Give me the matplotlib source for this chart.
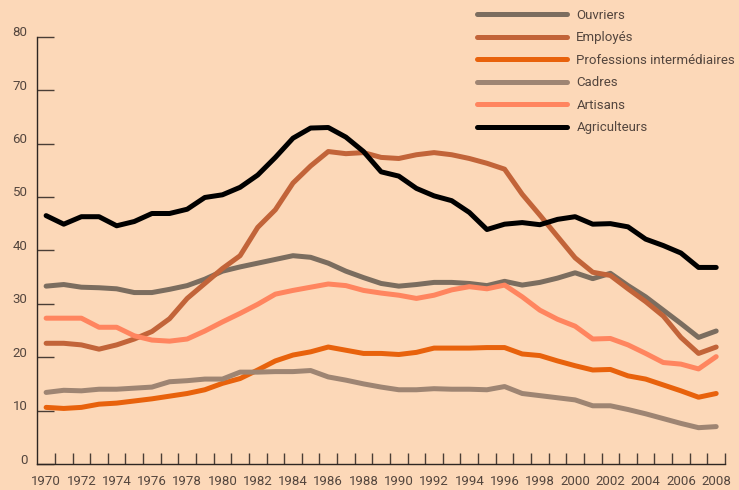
import matplotlib
matplotlib.use("Agg")
import matplotlib.pyplot as plt
import matplotlib.transforms as mtransforms

# Données
annees = list(range(1970, 2009))

ouvriers = [33.3, 33.6, 33.1, 33.0, 32.8, 32.1, 32.1, 32.7, 33.4, 34.6,
            36.1, 36.9, 37.6, 38.3, 39.0, 38.7, 37.6, 36.1, 34.9, 33.8,
            33.3, 33.6, 34.0, 34.0, 33.8, 33.4, 34.2, 33.5, 34.0, 34.8,
            35.8, 34.7, 35.7, 33.4, 31.3, 28.8, 26.3, 23.7, 24.9]

employes = [22.6, 22.6, 22.3, 21.5, 22.3, 23.4, 24.8, 27.2, 31.0, 33.8,
            36.6, 39.0, 44.3, 47.6, 52.6, 55.8, 58.5, 58.1, 58.3, 57.4,
            57.2, 57.9, 58.3, 57.9, 57.2, 56.3, 55.2, 50.5, 46.6, 42.6,
            38.6, 35.9, 35.3, 32.8, 30.4, 27.7, 23.7, 20.7, 21.9]

prof_inter = [10.6, 10.4, 10.6, 11.2, 11.4, 11.8, 12.2, 12.7, 13.2, 13.9,
              15.1, 16.0, 17.6, 19.3, 20.4, 21.0, 21.9, 21.3, 20.7, 20.7,
              20.5, 20.9, 21.7, 21.7, 21.7, 21.8, 21.8, 20.6, 20.3, 19.3,
              18.4, 17.6, 17.7, 16.5, 15.9, 14.8, 13.7, 12.5, 13.2]

cadres = [13.4, 13.8, 13.7, 14.0, 14.0, 14.2, 14.4, 15.4, 15.6, 15.9,
          15.9, 17.2, 17.2, 17.3, 17.3, 17.5, 16.3, 15.7, 15.0, 14.4,
          13.9, 13.9, 14.1, 14.0, 14.0, 13.9, 14.5, 13.2, 12.8, 12.4,
          12.0, 10.9, 10.9, 10.2, 9.4, 8.5, 7.6, 6.8, 7.0]

artisans = [27.3, 27.3, 27.3, 25.6, 25.6, 24.0, 23.2, 23.0, 23.4, 24.9,
            26.6, 28.2, 29.9, 31.8, 32.5, 33.1, 33.7, 33.4, 32.5, 32.0,
            31.6, 31.0, 31.6, 32.6, 33.2, 32.8, 33.5, 31.3, 28.8, 27.1,
            25.8, 23.4, 23.5, 22.3, 20.7, 19.0, 18.7, 17.8, 20.1]

agriculteurs = [46.5, 44.9, 46.3, 46.3, 44.6, 45.4, 46.9, 46.9, 47.7, 49.9,
                50.4, 51.8, 54.1, 57.4, 61.0, 62.9, 63.0, 61.2, 58.5, 54.7,
                53.9, 51.6, 50.2, 49.3, 47.1, 43.9, 44.9, 45.2, 44.8, 45.8,
                46.3, 44.9, 45.0, 44.4, 42.1, 40.9, 39.5, 36.8, 36.8]

series = [
    ("Ouvriers", ouvriers, "#7b6d5f"),
    ("Employés", employes, "#c26439"),
    ("Professions intermédiaires", prof_inter, "#e8620c"),
    ("Cadres", cadres, "#9e8573"),
    ("Artisans", artisans, "#ff855f"),
    ("Agriculteurs", agriculteurs, "#000000"),
]

fond = "#fcd8b8"
texte = "#54463e"

plt.rcParams["font.family"] = ["Roboto", "DejaVu Sans"]

fig = plt.figure(figsize=(7.39, 4.90), dpi=100, facecolor=fond)
ax = fig.add_axes([37.3 / 739, 1 - 464 / 490, (725 - 37.3) / 739, (464 - 36.7) / 490])
ax.set_facecolor(fond)

for nom, valeurs, couleur in series:
    ax.plot(annees, valeurs, color=couleur, lw=3.6, label=nom,
            solid_capstyle="round", solid_joinstyle="round")

ax.set_xlim(1969.5, 2008.5)
ax.set_ylim(0, 80)

# Axes
for cote in ["top", "right"]:
    ax.spines[cote].set_visible(False)
for cote in ["left", "bottom"]:
    ax.spines[cote].set_color("#2e2622")
    ax.spines[cote].set_linewidth(1.0)

ax.set_yticks(range(0, 81, 10))
ax.tick_params(axis="y", direction="in", length=12.2, width=1.0,
               color="#4a3e36", labelsize=9.5, labelcolor=texte, pad=7)
dy = mtransforms.ScaledTranslation(0, 5.5 / 100, fig.dpi_scale_trans)
for lab in ax.get_yticklabels():
    lab.set_transform(lab.get_transform() + dy)

ax.set_xticks(range(1970, 2009, 2))
ax.set_xticks([a + 0.5 for a in range(1970, 2009)], minor=True)
ax.tick_params(axis="x", which="major", length=0, labelsize=9.5,
               labelcolor=texte, pad=8)
ax.tick_params(axis="x", which="minor", direction="in", length=7.7,
               width=1.0, color="#4a3e36")

leg = fig.legend(loc="upper left", bbox_to_anchor=(465.5 / 739, 1 + 3 / 490),
                 frameon=False, fontsize=9.5, handlelength=6.8,
                 handletextpad=0.7, labelspacing=0.72)
for t in leg.get_texts():
    t.set_color(texte)

fig.savefig("out.png", dpi=100, facecolor=fond)
